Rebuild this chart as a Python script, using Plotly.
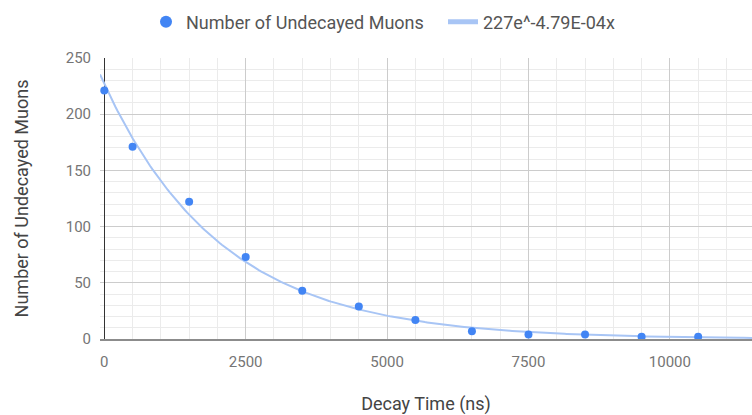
import numpy as np
import plotly.graph_objects as go

# Data
decay_time_ns = [0, 500, 1500, 2500, 3500, 4500, 5500, 6500, 7500, 8500, 9500, 10500]
undecayed_muons = [221, 171, 122, 73, 43, 29, 17, 7, 4, 4, 2, 2]

# Exponential trendline coefficients as shown in the legend
trend_A = 227
trend_k = 4.79e-4
trend_label = "227e^-4.79E-04x"
series_label = "Number of Undecayed Muons"

x_range = [-76, 11452]
y_range = [0, 250]

trend_x = np.linspace(x_range[0], x_range[1], 300)
trend_y = trend_A * np.exp(-trend_k * trend_x)

fig = go.Figure()
fig.add_trace(go.Scatter(
    x=trend_x, y=trend_y, mode="lines", name=trend_label,
    line=dict(color="#a8c5f5", width=2), legendrank=2, hoverinfo="skip",
))
fig.add_trace(go.Scatter(
    x=decay_time_ns, y=undecayed_muons, mode="markers", name=series_label,
    marker=dict(color="#4285F4", size=8), legendrank=1,
))

fig.update_layout(
    width=752, height=415,
    margin=dict(l=100, r=0, t=58, b=76, autoexpand=False),
    paper_bgcolor="white", plot_bgcolor="white",
    font=dict(family="Roboto", color="#666666"),
    showlegend=True,
    legend=dict(
        orientation="h", xref="container", yref="container",
        x=146 / 752, xanchor="left", y=1 - 22 / 415, yanchor="middle",
        font=dict(size=18, color="#555555"), itemsizing="constant",
        entrywidth=252, entrywidthmode="pixels",
        bgcolor="rgba(0,0,0,0)",
    ),
)

fig.update_xaxes(
    range=x_range, tick0=0, dtick=2500, tickformat="d", automargin=False,
    showgrid=True, gridcolor="#cccccc", gridwidth=1,
    minor=dict(tick0=0, dtick=500, showgrid=True, gridcolor="#ebebeb", gridwidth=1),
    zeroline=True, zerolinecolor="#333333", zerolinewidth=1,
    showline=True, linecolor="#8c8c8c", linewidth=2,
    ticks="", tickfont=dict(size=15, color="#757575"), ticklabelstandoff=8,
    title=dict(text="Decay Time (ns)", font=dict(size=18, color="#444444"), standoff=28),
)
fig.update_yaxes(
    range=y_range, tick0=0, dtick=50, tickformat="d", automargin=False,
    showgrid=True, gridcolor="#cccccc", gridwidth=1,
    minor=dict(tick0=0, dtick=10, showgrid=True, gridcolor="#ebebeb", gridwidth=1),
    zeroline=False, showline=False,
    ticks="", tickfont=dict(size=15, color="#757575"), ticklabelstandoff=8,
    title=dict(text="Number of Undecayed Muons", font=dict(size=18, color="#444444"), standoff=32),
)

fig.write_html("out.html", config={"displayModeBar": False},
               post_script="document.body.style.margin='0';")
